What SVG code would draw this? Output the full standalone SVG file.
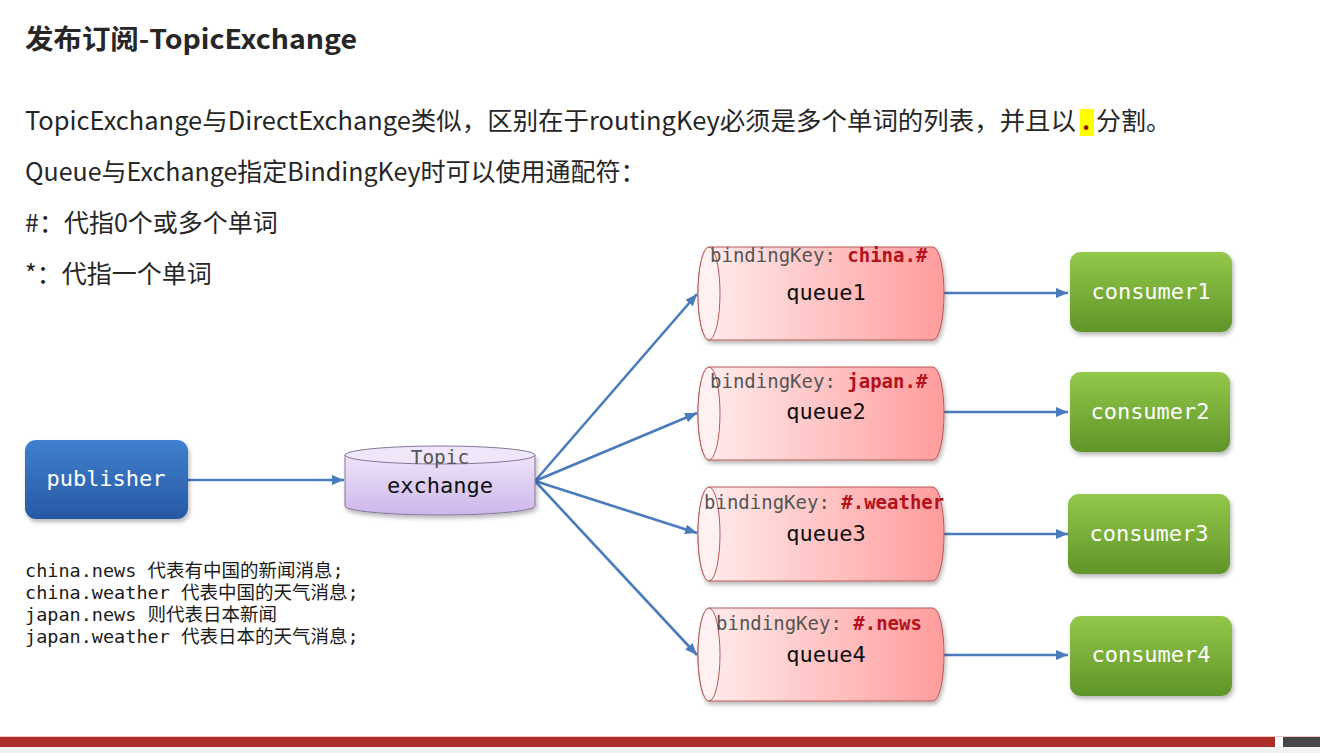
<svg xmlns="http://www.w3.org/2000/svg" width="1320" height="753" viewBox="0 0 1320 753">
  <style>
    .txt { font-family: "Noto Sans CJK SC", "Noto Sans", sans-serif; fill: #262626; }
    .title { font-size: 27px; font-weight: bold; }
    .body { font-size: 25px; }
    .mono { font-family: "DejaVu Sans Mono", "Liberation Mono", "Noto Sans CJK SC", monospace; }
    .note { font-size: 18.5px; fill: #1a1a1a; }
    .key { font-size: 19px; fill: #555; }
    .keyv { fill: #b3111b; font-weight: bold; }
    .qname { font-size: 22px; fill: #111; }
    .white { font-size: 22px; fill: #fff; }
    .queue-body { fill: url(#gQueue); stroke: #b45a5a; stroke-width: 1; }
    .queue-cap { fill: #fff1f1; stroke: #b45a5a; stroke-width: 1; }
    .consumer { fill: url(#gGreen); }
    .conn line { stroke: #4a7bbd; stroke-width: 2.6; marker-end: url(#arrow); }
  </style>
  <defs>
    <linearGradient id="gBlue" x1="0" y1="0" x2="0" y2="1">
      <stop offset="0" stop-color="#3f80cf"/>
      <stop offset="1" stop-color="#2758a3"/>
    </linearGradient>
    <linearGradient id="gGreen" x1="0" y1="0" x2="0" y2="1">
      <stop offset="0" stop-color="#93c84a"/>
      <stop offset="1" stop-color="#5f9529"/>
    </linearGradient>
    <linearGradient id="gQueue" x1="0" y1="0" x2="1" y2="0">
      <stop offset="0" stop-color="#ffeeee"/>
      <stop offset="1" stop-color="#ff9c9c"/>
    </linearGradient>
    <linearGradient id="gEx" x1="0" y1="0" x2="0" y2="1">
      <stop offset="0" stop-color="#efe4fa"/>
      <stop offset="1" stop-color="#cdb6ea"/>
    </linearGradient>
    <filter id="shadow" x="-10%" y="-10%" width="130%" height="140%">
      <feDropShadow dx="1.5" dy="3" stdDeviation="2" flood-color="#000" flood-opacity="0.28"/>
    </filter>
    <marker id="arrow" viewBox="0 0 12 10" refX="12" refY="5" markerWidth="12" markerHeight="10" markerUnits="userSpaceOnUse" orient="auto">
      <path d="M0,0 L12,5 L0,10 z" fill="#4a7bbd"/>
    </marker>
  </defs>

  <rect width="1320" height="753" fill="#ffffff"/>

  <!-- heading and explanation -->
  <text class="txt title" x="25" y="49" textLength="332" lengthAdjust="spacingAndGlyphs">发布订阅-TopicExchange</text>
  <rect x="1080" y="109" width="14" height="27" fill="#ffff00"/>
  <text class="txt body" x="25" y="130" textLength="1051" lengthAdjust="spacingAndGlyphs">TopicExchange与DirectExchange类似，区别在于routingKey必须是多个单词的列表，并且以</text>
  <text class="txt body" x="1082" y="130" style="fill:#8b1010;font-weight:bold">.</text>
  <text class="txt body" x="1096" y="130">分割。</text>
  <text class="txt body" x="25" y="181">Queue与Exchange指定BindingKey时可以使用通配符：</text>
  <text class="txt body" x="25" y="232">#：代指0个或多个单词</text>
  <text class="txt body" x="25" y="283">*：代指一个单词</text>

  <!-- routing key examples -->
  <g id="notes">
    <text class="mono note" x="25" y="577">china.news 代表有中国的新闻消息;</text>
    <text class="mono note" x="25" y="599">china.weather 代表中国的天气消息;</text>
    <text class="mono note" x="25" y="621">japan.news 则代表日本新闻</text>
    <text class="mono note" x="25" y="643">japan.weather 代表日本的天气消息;</text>
  </g>

  <!-- connectors -->
  <g id="connectors" class="conn">
    <line x1="188" y1="480" x2="344" y2="480"/>
    <line x1="535" y1="481" x2="697" y2="294"/>
    <line x1="535" y1="481" x2="697" y2="413"/>
    <line x1="535" y1="481" x2="697" y2="533"/>
    <line x1="535" y1="481" x2="697" y2="655"/>
    <line x1="944" y1="293" x2="1068" y2="293"/>
    <line x1="944" y1="412" x2="1068" y2="412"/>
    <line x1="944" y1="534" x2="1068" y2="534"/>
    <line x1="944" y1="655" x2="1068" y2="655"/>
  </g>

  <!-- publisher -->
  <g id="publisher">
    <rect x="25" y="440" width="163" height="79" rx="11" fill="url(#gBlue)" filter="url(#shadow)"/>
    <text class="mono white" x="106" y="486" text-anchor="middle">publisher</text>
  </g>

  <!-- topic exchange -->
  <g id="exchange">
    <path d="M345,455 L345,506 A95,9 0 0 0 535,506 L535,455 Z" fill="url(#gEx)" stroke="#85769a" stroke-width="1" filter="url(#shadow)"/>
    <ellipse cx="440" cy="455" rx="95" ry="9" fill="#efe6fa" stroke="#85769a" stroke-width="1"/>
    <text class="mono" x="440" y="464" text-anchor="middle" style="font-size:19.5px;fill:#555">Topic</text>
    <text class="mono qname" x="440" y="493" text-anchor="middle">exchange</text>
  </g>

  <!-- queues -->
  <g id="queue1">
    <path class="queue-body" d="M709,247 L933,247 A11,46.5 0 0 1 933,340 L709,340 A11,46.5 0 0 1 709,247 Z" filter="url(#shadow)"/>
    <ellipse class="queue-cap" cx="709" cy="293.5" rx="11" ry="46.5"/>
    <text class="mono key" x="710" y="262">bindingKey: <tspan class="keyv">china.#</tspan></text>
    <text class="mono qname" x="826" y="300" text-anchor="middle">queue1</text>
  </g>
  <g id="queue2">
    <path class="queue-body" d="M709,367 L933,367 A11,46.5 0 0 1 933,460 L709,460 A11,46.5 0 0 1 709,367 Z" filter="url(#shadow)"/>
    <ellipse class="queue-cap" cx="709" cy="413.5" rx="11" ry="46.5"/>
    <text class="mono key" x="710" y="388">bindingKey: <tspan class="keyv">japan.#</tspan></text>
    <text class="mono qname" x="826" y="419" text-anchor="middle">queue2</text>
  </g>
  <g id="queue3">
    <path class="queue-body" d="M709,487 L933,487 A11,47 0 0 1 933,581 L709,581 A11,47 0 0 1 709,487 Z" filter="url(#shadow)"/>
    <ellipse class="queue-cap" cx="709" cy="534" rx="11" ry="47"/>
    <text class="mono key" x="704" y="509">bindingKey: <tspan class="keyv">#.weather</tspan></text>
    <text class="mono qname" x="826" y="541" text-anchor="middle">queue3</text>
  </g>
  <g id="queue4">
    <path class="queue-body" d="M709,608 L933,608 A11,46.5 0 0 1 933,701 L709,701 A11,46.5 0 0 1 709,608 Z" filter="url(#shadow)"/>
    <ellipse class="queue-cap" cx="709" cy="654.5" rx="11" ry="46.5"/>
    <text class="mono key" x="716" y="630">bindingKey: <tspan class="keyv">#.news</tspan></text>
    <text class="mono qname" x="826" y="662" text-anchor="middle">queue4</text>
  </g>

  <!-- consumers -->
  <g id="consumer1">
    <rect class="consumer" x="1070" y="252" width="162" height="80" rx="11" filter="url(#shadow)"/>
    <text class="mono white" x="1151" y="299" text-anchor="middle">consumer1</text>
  </g>
  <g id="consumer2">
    <rect class="consumer" x="1070" y="372" width="160" height="80" rx="11" filter="url(#shadow)"/>
    <text class="mono white" x="1150" y="419" text-anchor="middle">consumer2</text>
  </g>
  <g id="consumer3">
    <rect class="consumer" x="1068" y="494" width="162" height="80" rx="11" filter="url(#shadow)"/>
    <text class="mono white" x="1149" y="541" text-anchor="middle">consumer3</text>
  </g>
  <g id="consumer4">
    <rect class="consumer" x="1070" y="616" width="162" height="80" rx="11" filter="url(#shadow)"/>
    <text class="mono white" x="1151" y="662" text-anchor="middle">consumer4</text>
  </g>

  <!-- footer band -->
  <rect x="0" y="736" width="1320" height="1" fill="#f4c4c4"/>
  <rect x="0" y="737" width="1275" height="10" fill="#ad2d2b"/>
  <rect x="1283" y="737" width="37" height="10" fill="#474747"/>
  <rect x="0" y="747" width="1320" height="6" fill="#f2f2f2"/>
</svg>
